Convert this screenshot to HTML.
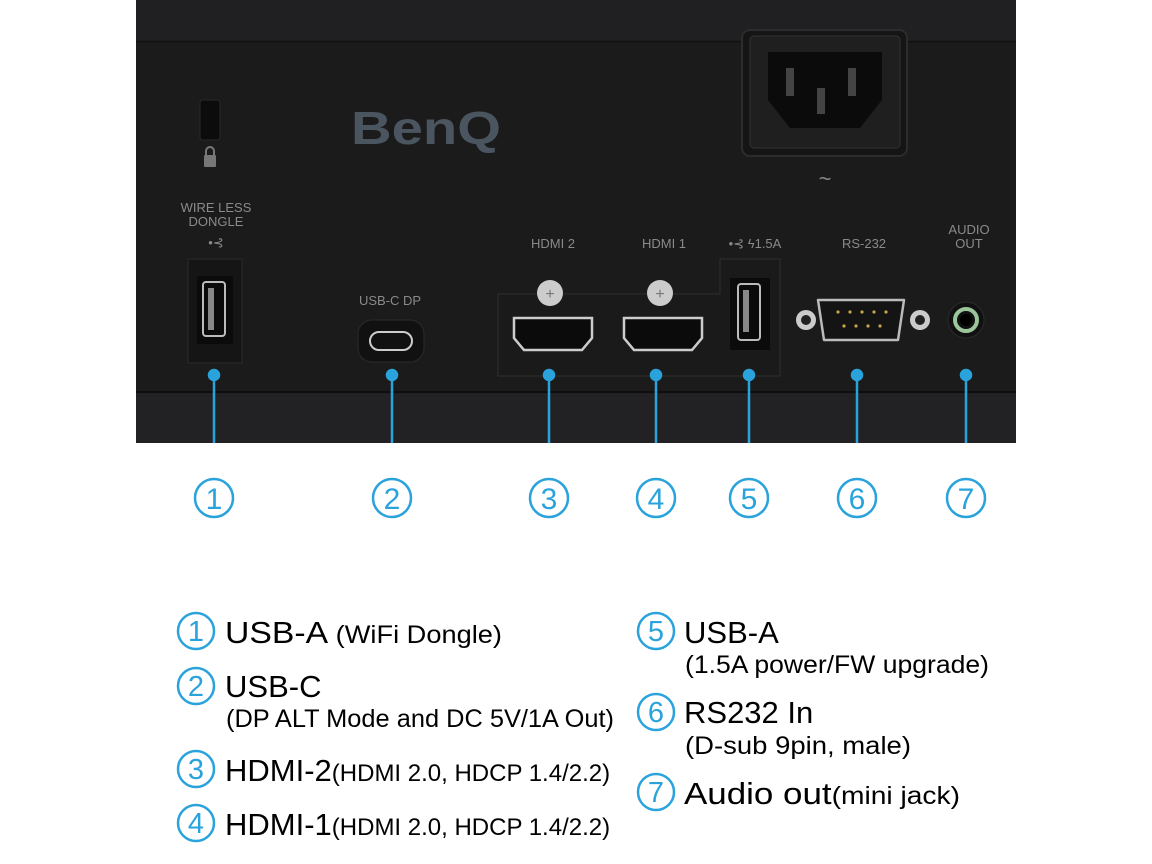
<!DOCTYPE html>
<html><head><meta charset="utf-8"><style>
html,body{margin:0;padding:0;background:#fff;}
svg{display:block;}
text{font-family:"Liberation Sans",sans-serif;}
</style></head><body>
<svg width="1152" height="864" viewBox="0 0 1152 864" xmlns="http://www.w3.org/2000/svg">
<rect x="0" y="0" width="1152" height="864" fill="#fff"/>
<rect x="136" y="0" width="880" height="443" fill="#1b1b1c"/>
<rect x="136" y="0" width="880" height="41" fill="#202022"/>
<line x1="136" y1="41.5" x2="1016" y2="41.5" stroke="#111" stroke-width="1.5"/>
<rect x="136" y="392" width="880" height="51" fill="#222224"/>
<line x1="136" y1="392" x2="1016" y2="392" stroke="#0e0e0e" stroke-width="2"/>
<rect x="200" y="100" width="20" height="40" rx="3" fill="#0c0c0c" stroke="#2a2a2a"/>
<rect x="204" y="155" width="12" height="12" rx="1" fill="#777"/>
<path d="M206 155 v-4 a4 4 0 0 1 8 0 v4" fill="none" stroke="#777" stroke-width="2"/>
<text x="351" y="144" font-size="46" font-weight="bold" fill="#4a5560" textLength="150" lengthAdjust="spacingAndGlyphs">BenQ</text>
<rect x="742" y="30" width="165" height="126" rx="8" fill="#151515" stroke="#2c2c2c" stroke-width="2"/>
<rect x="750" y="36" width="150" height="112" rx="4" fill="#1f1f20" stroke="#333"/>
<path d="M768 52 h114 v48 l-22 28 h-70 l-22 -28 z" fill="#0b0b0b"/>
<rect x="786" y="68" width="8" height="28" fill="#444"/>
<rect x="848" y="68" width="8" height="28" fill="#444"/>
<rect x="817" y="88" width="8" height="26" fill="#444"/>
<text x="825" y="186" font-size="22" fill="#888" text-anchor="middle">~</text>
<g fill="#8a8a8a" font-size="13" text-anchor="middle">
<text x="216" y="212">WIRE LESS</text><text x="216" y="226">DONGLE</text>
<text x="216" y="247">•⊰</text>
<text x="390" y="305">USB-C DP</text>
<text x="553" y="248">HDMI 2</text>
<text x="664" y="248">HDMI 1</text>
<text x="755" y="248">•⊰ ϟ1.5A</text>
<text x="864" y="248">RS-232</text>
<text x="969" y="234">AUDIO</text><text x="969" y="248">OUT</text>
</g>
<rect x="188" y="259" width="54" height="104" fill="#151515" stroke="#2a2a2a"/>
<rect x="197" y="276" width="36" height="68" fill="#0b0b0b"/>
<rect x="203" y="282" width="22" height="54" rx="3" fill="none" stroke="#bbb" stroke-width="2"/>
<rect x="208" y="288" width="6" height="42" fill="#888"/>
<rect x="358" y="320" width="66" height="42" rx="14" fill="#111" stroke="#2b2b2b"/>
<rect x="370" y="332" width="42" height="18" rx="9" fill="none" stroke="#ccc" stroke-width="2"/>
<path d="M498 294 h222 v-35 h60 v117 h-282 z" fill="#1a1a1a" stroke="#2f2f2f"/>
<circle cx="550" cy="293" r="13" fill="#ccc"/><text x="550" y="299" font-size="16" text-anchor="middle" fill="#777">+</text>
<circle cx="660" cy="293" r="13" fill="#ccc"/><text x="660" y="299" font-size="16" text-anchor="middle" fill="#777">+</text>
<path d="M514 318 h78 v20 l-10 12 h-58 l-10 -12 z" fill="#0b0b0b" stroke="#ccc" stroke-width="2.5"/>
<path d="M624 318 h78 v20 l-10 12 h-58 l-10 -12 z" fill="#0b0b0b" stroke="#ccc" stroke-width="2.5"/>
<rect x="730" y="278" width="40" height="72" fill="#0b0b0b"/>
<rect x="738" y="284" width="22" height="56" rx="3" fill="none" stroke="#bbb" stroke-width="2"/>
<rect x="743" y="290" width="6" height="42" fill="#888"/>
<circle cx="806" cy="320" r="10" fill="#ccc"/><circle cx="806" cy="320" r="5" fill="#222"/>
<circle cx="920" cy="320" r="10" fill="#ccc"/><circle cx="920" cy="320" r="5" fill="#222"/>
<path d="M818 300 h86 l-6 40 h-74 z" fill="#141414" stroke="#bbb" stroke-width="2.5" stroke-linejoin="round"/>
<g fill="#c9a54a"><circle cx="838" cy="312" r="1.6"/><circle cx="850" cy="312" r="1.6"/><circle cx="862" cy="312" r="1.6"/><circle cx="874" cy="312" r="1.6"/><circle cx="886" cy="312" r="1.6"/>
<circle cx="844" cy="326" r="1.6"/><circle cx="856" cy="326" r="1.6"/><circle cx="868" cy="326" r="1.6"/><circle cx="880" cy="326" r="1.6"/></g>
<circle cx="966" cy="320" r="18" fill="#111" stroke="#2a2a2a"/>
<circle cx="966" cy="320" r="11" fill="none" stroke="#9bc59b" stroke-width="4"/>
<circle cx="966" cy="320" r="6" fill="#000"/>
<g stroke="#2aa3dc" stroke-width="2.5" fill="#2aa3dc">
<line x1="214" y1="375" x2="214" y2="443"/><circle cx="214" cy="375" r="5"/>
<line x1="392" y1="375" x2="392" y2="443"/><circle cx="392" cy="375" r="5"/>
<line x1="549" y1="375" x2="549" y2="443"/><circle cx="549" cy="375" r="5"/>
<line x1="656" y1="375" x2="656" y2="443"/><circle cx="656" cy="375" r="5"/>
<line x1="749" y1="375" x2="749" y2="443"/><circle cx="749" cy="375" r="5"/>
<line x1="857" y1="375" x2="857" y2="443"/><circle cx="857" cy="375" r="5"/>
<line x1="966" y1="375" x2="966" y2="443"/><circle cx="966" cy="375" r="5"/>
</g>
<g fill="none" stroke="#2aa3dc" stroke-width="2.5">
<circle cx="214" cy="498" r="19"/><circle cx="392" cy="498" r="19"/><circle cx="549" cy="498" r="19"/><circle cx="656" cy="498" r="19"/><circle cx="749" cy="498" r="19"/><circle cx="857" cy="498" r="19"/><circle cx="966" cy="498" r="19"/>
</g>
<g fill="#2aa3dc" font-size="30" text-anchor="middle">
<text x="214" y="509">1</text><text x="392" y="509">2</text><text x="549" y="509">3</text><text x="656" y="509">4</text><text x="749" y="509">5</text><text x="857" y="509">6</text><text x="966" y="509">7</text>
</g>
<g fill="none" stroke="#2aa3dc" stroke-width="2.5">
<circle cx="196" cy="631" r="18"/><circle cx="196" cy="686" r="18"/><circle cx="196" cy="769" r="18"/><circle cx="196" cy="823" r="18"/>
<circle cx="656" cy="631" r="18"/><circle cx="656" cy="712" r="18"/><circle cx="656" cy="792" r="18"/>
</g>
<g fill="#2aa3dc" font-size="29" text-anchor="middle">
<text x="196" y="641">1</text><text x="196" y="696">2</text><text x="196" y="779">3</text><text x="196" y="833">4</text>
<text x="656" y="641">5</text><text x="656" y="722">6</text><text x="656" y="802">7</text>
</g>
<g fill="#000">
<text x="225" y="643" font-size="31" textLength="277" lengthAdjust="spacingAndGlyphs">USB-A <tspan font-size="25">(WiFi Dongle)</tspan></text>
<text x="225" y="697" font-size="31">USB-C</text>
<text x="226" y="727" font-size="25" textLength="388" lengthAdjust="spacingAndGlyphs">(DP ALT Mode and DC 5V/1A Out)</text>
<text x="225" y="781" font-size="31">HDMI-2<tspan font-size="24">(HDMI 2.0, HDCP 1.4/2.2)</tspan></text>
<text x="225" y="835" font-size="31">HDMI-1<tspan font-size="24">(HDMI 2.0, HDCP 1.4/2.2)</tspan></text>
<text x="684" y="643" font-size="31">USB-A</text>
<text x="685" y="673" font-size="25" textLength="304" lengthAdjust="spacingAndGlyphs">(1.5A power/FW upgrade)</text>
<text x="684" y="723" font-size="31">RS232 In</text>
<text x="685" y="754" font-size="25" textLength="226" lengthAdjust="spacingAndGlyphs">(D-sub 9pin, male)</text>
<text x="684" y="804" font-size="31" textLength="276" lengthAdjust="spacingAndGlyphs">Audio out<tspan font-size="25">(mini jack)</tspan></text>
</g>
</svg>
</body></html>
